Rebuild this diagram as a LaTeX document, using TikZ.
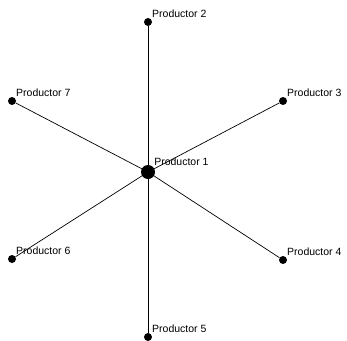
\documentclass[tikz,border=0pt]{standalone}
\usepackage{fontspec}
\setmainfont{Liberation Sans}
\usepackage{tikz}

\tikzset{
    punto/.style={circle, fill=black, inner sep=0pt, minimum size=8pt},
    centro/.style={circle, fill=black, inner sep=0pt, minimum size=14pt},
    etiqueta/.style={font=\fontsize{10.5}{12}\selectfont, inner sep=1pt},
    rayo/.style={line width=0.7pt}
}

\begin{document}
\begin{tikzpicture}[x=1pt, y=-1pt]
    \useasboundingbox (0,0) rectangle (347,340);
    % Define nodes
        \node[centro, label={[etiqueta, label distance=0pt]above right:Productor 1}] (p1) at (148,172) {};
        \node[punto, label={[etiqueta]above right:Productor 2}] (p2) at (148,22) {};
        \node[punto, label={[etiqueta]above right:Productor 3}] (p3) at (283,101) {};
        \node[punto, label={[etiqueta]above right:Productor 4}] (p4) at (283,260) {};
        \node[punto, label={[etiqueta]above right:Productor 5}] (p5) at (148,337) {};
        \node[punto, label={[etiqueta]above right:Productor 6}] (p6) at (12,259) {};
        \node[punto, label={[etiqueta]above right:Productor 7}] (p7) at (12,101) {};
        % Draw lines
        \draw[rayo] (p1.center) -- (p2);
        \draw[rayo] (p1.center) -- (p3);
        \draw[rayo] (p1.center) -- (p4);
        \draw[rayo] (p1.center) -- (p5);
        \draw[rayo] (p1.center) -- (p6);
        \draw[rayo] (p1.center) -- (p7);
    \end{tikzpicture}
\end{document}
